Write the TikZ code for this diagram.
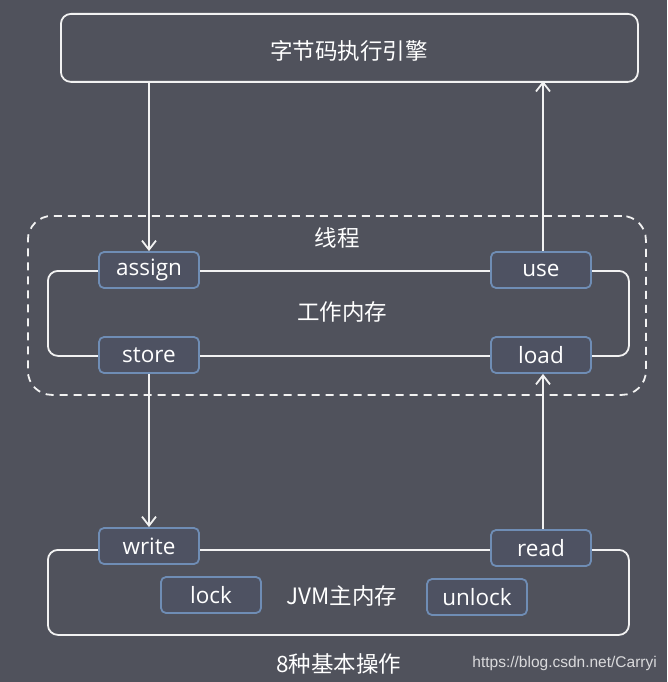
\documentclass[tikz,border=0pt]{standalone}
\usepackage{fontspec}
\setmainfont{Open Sans}
\newfontfamily\cjk{Noto Sans CJK SC}
\newfontfamily\urlfont{Liberation Sans}
\usetikzlibrary{arrows.meta}
\definecolor{bg}{HTML}{50525C}
\definecolor{opfill}{HTML}{4E5262}
\definecolor{opborder}{HTML}{6F8DB5}
\definecolor{ln}{HTML}{F2F2F2}
\begin{document}
\begin{tikzpicture}[x=1pt,y=-1pt,
  bigbox/.style={draw=ln, line width=1.8pt, rounded corners=10pt},
  opbox/.style={draw=opborder, fill=opfill, line width=1.8pt, rounded corners=5pt,
    minimum width=100pt, minimum height=36pt, inner sep=0pt, text=white,
    font=\fontsize{22.5}{26}\selectfont},
  cjklabel/.style={text=white, font=\cjk\fontsize{22.5}{26}\selectfont, inner sep=0pt},
  flow/.style={draw=ln, line width=1.8pt, -{Straight Barb[length=9pt,width=14pt,line width=1.8pt]}},
  link/.style={draw=ln, line width=1.8pt}
]
\fill[bg] (0,0) rectangle (667,682);
\useasboundingbox (0,0) rectangle (667,682);

% top engine box
\node[bigbox, minimum width=577pt, minimum height=68pt, anchor=north west, inner sep=0pt] (engine) at (60,13) {};
\node[cjklabel] (enginetext) at (349,51) {字节码执行引擎};

% thread dashed box
\node[draw=ln, line width=1.8pt, dash pattern=on 8pt off 6pt, rounded corners=24pt,
  minimum width=618pt, minimum height=179pt, anchor=north west, inner sep=0pt] (thread) at (27,215) {};
\node[cjklabel] (threadtext) at (337,238) {线程};

% working memory box
\node[bigbox, minimum width=581pt, minimum height=85pt, anchor=north west, inner sep=0pt] (work) at (47,270) {};
\node[cjklabel] (worktext) at (342,312) {工作内存};

% main memory box
\node[bigbox, minimum width=581pt, minimum height=85pt, anchor=north west, inner sep=0pt] (mainmem) at (47,549) {};
\node[cjklabel] (maintext) at (342,596) {JVM主内存};

% operation boxes
\node[opbox] (assign) at (149,270) {assign};
\node[opbox] (use) at (541,270) {use};
\node[opbox] (store) at (149,355) {store};
\node[opbox] (load) at (541,355) {load};
\node[opbox] (write) at (149,546) {write};
\node[opbox] (read) at (541,548) {read};
\node[opbox] (lock) at (211,595) {lock};
\node[opbox] (unlock) at (477,597) {unlock};

% arrows
\coordinate (e1) at (149,81);
\coordinate (e2) at (543,81);
\draw[flow] (e1) -- (assign.north);
\draw[flow] (use.north -| e2) -- (e2);
\draw[flow] (store.south) -- (write.north);
\draw[flow] (read.north -| e2) -- (load.south -| e2);

% bottom caption and url
\node[cjklabel] (caption) at (339,664) {8种基本操作};
\node[text=ln!85!bg, font=\urlfont\fontsize{15.5}{18}\selectfont, inner sep=0pt, anchor=east] (url) at (657,663) {https://blog.csdn.net/Carryi};
\end{tikzpicture}
\end{document}
